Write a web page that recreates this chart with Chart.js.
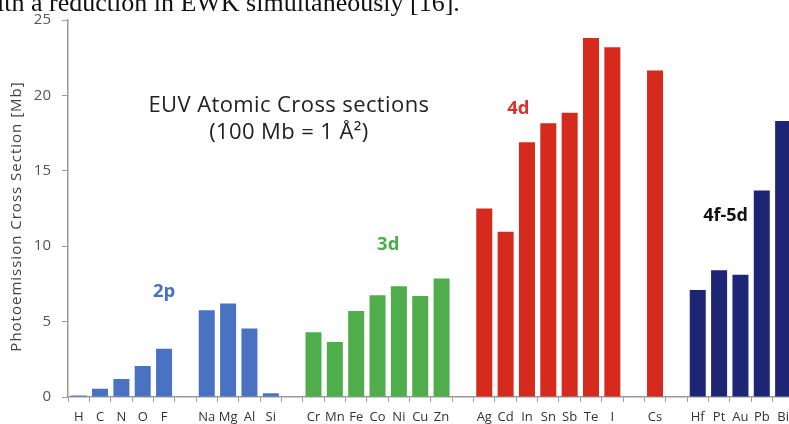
<!DOCTYPE html>
<html>
<head>
<meta charset="utf-8">
<script src="https://cdn.jsdelivr.net/npm/chart.js@4.4.0/dist/chart.umd.min.js"></script>
<style>
  html, body { margin: 0; padding: 0; background: #fff; overflow: hidden; width: 789px; height: 424px; }
  #wrap { position: relative; width: 796px; height: 424px; }
  #caption {
    position: absolute; left: -3px; top: -12px; z-index: 2;
    font-family: "Liberation Serif", "DejaVu Serif", serif; font-size: 26px;
    white-space: nowrap; color: #111;
  }
</style>
</head>
<body>
<div id="wrap">
  <canvas id="chart"></canvas>
  <div id="caption">ith a reduction in EWK simultaneously [16].</div>
</div>
<script>
// element symbols along the x axis, '' = spacer slot between shell groups
const elements = ['H', 'C', 'N', 'O', 'F', '', 'Na', 'Mg', 'Al', 'Si', '',
  'Cr', 'Mn', 'Fe', 'Co', 'Ni', 'Cu', 'Zn', '',
  'Ag', 'Cd', 'In', 'Sn', 'Sb', 'Te', 'I', '', 'Cs', '',
  'Hf', 'Pt', 'Au', 'Pb', 'Bi'];

// photoemission cross section in Mb
const crossSection = [0.1, 0.55, 1.2, 2.05, 3.2, null, 5.75, 6.2, 4.55, 0.25, null,
  4.3, 3.65, 5.7, 6.75, 7.35, 6.7, 7.85, null,
  12.5, 10.95, 16.9, 18.15, 18.85, 23.8, 23.2, null, 21.65, null,
  7.1, 8.4, 8.1, 13.7, 18.3];

// which shell each bar belongs to
const shells = ['2p', '2p', '2p', '2p', '2p', '', '2p', '2p', '2p', '2p', '',
  '3d', '3d', '3d', '3d', '3d', '3d', '3d', '',
  '4d', '4d', '4d', '4d', '4d', '4d', '4d', '', '4d', '',
  '4f-5d', '4f-5d', '4f-5d', '4f-5d', '4f-5d'];

const yTicks = [0, 5, 10, 15, 20, 25];
const yTitle = 'Photoemission Cross Section [Mb]';

const shellColors = {
  '2p': '#4a72c2',
  '3d': '#4fae4b',
  '4d': '#d62a1f',
  '4f-5d': '#1d2575',
  '': 'rgba(0,0,0,0)'
};

// text labels placed in data coordinates (category index, value)
const notes = [
  { text: 'EUV Atomic Cross sections', x: 9.85, y: 19.3, color: '#222', size: 22, weight: 'normal', spacing: 0.4 },
  { text: '(100 Mb = 1 Å²)', x: 9.85, y: 17.5, color: '#222', size: 22, weight: 'normal', spacing: 0.4 },
  { text: '2p', x: 4, y: 6.95, color: '#4a6fc0', size: 18.5, weight: 'bold', spacing: 0 },
  { text: '3d', x: 14.5, y: 10.1, color: '#4bae4e', size: 18.5, weight: 'bold', spacing: 0 },
  { text: '4d', x: 20.6, y: 19.1, color: '#d8322a', size: 18.5, weight: 'bold', spacing: 0 },
  { text: '4f-5d', x: 30.3, y: 12.0, color: '#111', size: 18, weight: 'bold', spacing: 0 }
];

const notesPlugin = {
  id: 'notes',
  afterDatasetsDraw(chart) {
    const { ctx, scales: { x, y } } = chart;
    ctx.save();
    ctx.textAlign = 'center';
    ctx.textBaseline = 'middle';
    notes.forEach(n => {
      ctx.font = n.weight + ' ' + n.size + 'px "Open Sans", sans-serif';
      ctx.letterSpacing = n.spacing + 'px';
      ctx.fillStyle = n.color;
      ctx.fillText(n.text, x.getPixelForValue(n.x), y.getPixelForValue(n.y));
    });
    // rotated y axis title
    ctx.translate(17, (y.top + y.bottom) / 2 + 8);
    ctx.rotate(-Math.PI / 2);
    ctx.font = '15px "Open Sans", sans-serif';
    ctx.letterSpacing = '1px';
    ctx.fillStyle = '#444';
    ctx.fillText(yTitle, 0, 0);
    ctx.restore();
  }
};

const ctx = document.getElementById('chart').getContext('2d');
new Chart(ctx, {
  type: 'bar',
  data: {
    labels: elements,
    datasets: [{
      data: crossSection,
      backgroundColor: shells.map(s => shellColors[s]),
      barPercentage: 0.75,
      categoryPercentage: 1.0
    }]
  },
  options: {
    responsive: true,
    maintainAspectRatio: false,
    animation: false,
    layout: { padding: { top: 18, right: 2, left: 0, bottom: 0 } },
    plugins: {
      legend: { display: false },
      tooltip: { enabled: false }
    },
    scales: {
      x: {
        grid: { drawOnChartArea: false, drawTicks: true, tickLength: 5, color: '#9a9a9a', offset: true },
        border: { color: '#9a9a9a', width: 1.5 },
        ticks: {
          autoSkip: false, maxRotation: 0, padding: 7,
          color: '#333', font: { family: '"Open Sans", sans-serif', size: 13 }
        },
        afterFit(scale) { scale.height = 27; }
      },
      y: {
        min: 0, max: 25,
        afterBuildTicks(scale) { scale.ticks = yTicks.map(v => ({ value: v })); },
        grid: { drawOnChartArea: false, drawTicks: true, tickLength: 6, color: '#9a9a9a' },
        border: { color: '#9a9a9a', width: 1.5 },
        ticks: { padding: 11, color: '#555', font: { family: '"Open Sans", sans-serif', size: 15 } },
        afterFit(scale) { scale.width = 68; }
      }
    }
  },
  plugins: [notesPlugin]
});
</script>
</body>
</html>
